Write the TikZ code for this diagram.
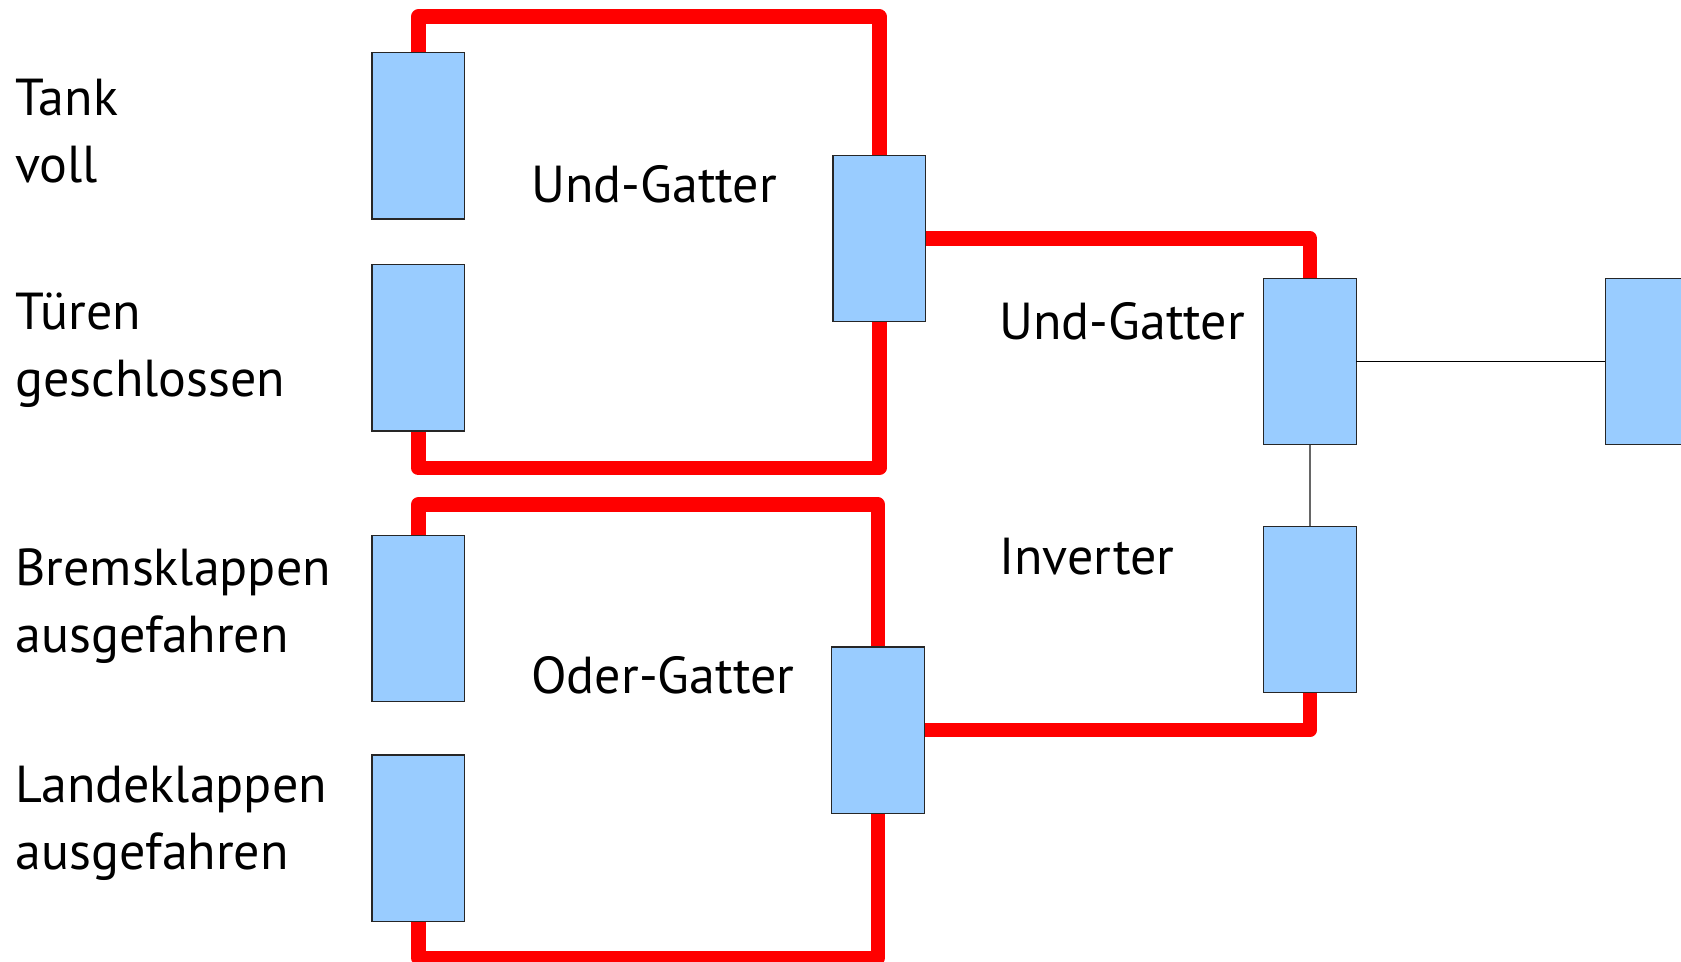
\documentclass[tikz,border=0pt]{standalone}
\usepackage{fontspec}
\setmainfont{PT Sans}
\definecolor{boxblue}{HTML}{99CCFF}
\definecolor{wire}{HTML}{FF0000}
\begin{document}
\begin{tikzpicture}[x=0.5pt,y=-0.5pt,
  gate/.style={draw=black!85,line width=0.6pt,fill=boxblue,minimum width=45.75pt,minimum height=82.5pt,inner sep=0pt},
  redwire/.style={draw=wire,line width=7.25pt,line join=round},
  label/.style={font=\fontsize{26}{33.5}\selectfont,anchor=base west,inner sep=0pt,align=left}]
\useasboundingbox (0,0) rectangle (1681,962);
\clip (0,0) rectangle (1681,962);
% nodes
\node[gate] (A) at (418.25,136) {};
\node[gate] (B) at (418.25,348) {};
\node[gate] (C) at (418.25,618.5) {};
\node[gate] (D) at (418.25,838) {};
\node[gate] (U1) at (879.25,238.5) {};
\node[gate] (O) at (877.8,730) {};
\node[gate] (U2) at (1310,361.5) {};
\node[gate] (I) at (1310,609.5) {};
\node[gate] (Q) at (1651.75,361.5) {};
% helper coordinates for wire levels
\coordinate (t1) at (0,16.7);
\coordinate (b1) at (0,468);
\coordinate (t2) at (0,504.5);
\coordinate (b2) at (0,958);
% red wires
\path[redwire] (A.north) -- (A.north |- t1) -| (U1.north);
\path[redwire] (B.south) -- (B.south |- b1) -| (U1.south);
\path[redwire] (U1.east) -| (U2.north);
\path[redwire] (C.north) -- (C.north |- t2) -| (O.north);
\path[redwire] (D.south) -- (D.south |- b2) -| (O.south);
\path[redwire] (O.east) -| (I.south);
% redraw boxes on top
\foreach \n in {A,B,C,D,U1,O,U2,I,Q}{
  \path[gate] (\n.south west) rectangle (\n.north east);
}
% thin connectors
\draw[black,line width=0.6pt] (U2.east) -- (Q.west);
\draw[black!60,line width=0.6pt] (U2.south) -- (I.north);
% labels (base anchor = baseline of last line)
\node[label] (l1) at (15,183) {Tank\\voll};
\node[label] (l2) at (15,397) {Türen\\geschlossen};
\node[label] (l3) at (15,652) {Bremsklappen\\ausgefahren};
\node[label] (l4) at (15,869) {Landeklappen\\ausgefahren};
\node[label] (g1) at (531,203) {Und-Gatter};
\node[label] (g2) at (999,340) {Und-Gatter};
\node[label] (g3) at (999,574) {Inverter};
\node[label] (g4) at (531,693) {Oder-Gatter};
\end{tikzpicture}
\end{document}
